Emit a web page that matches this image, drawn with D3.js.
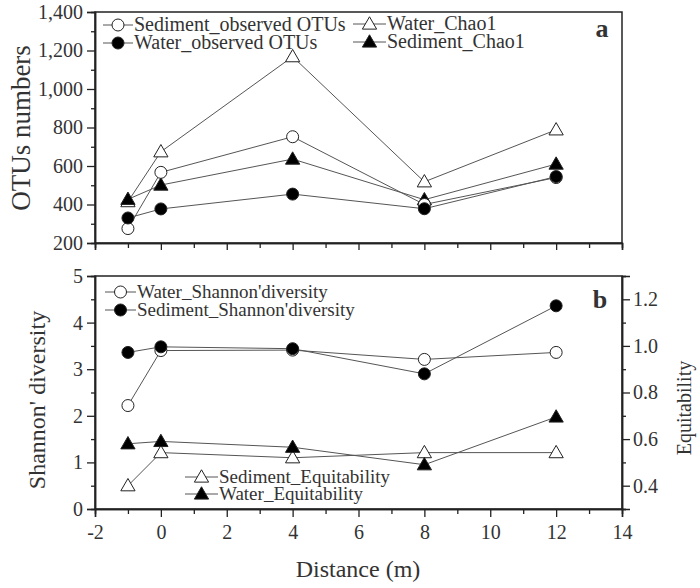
<!DOCTYPE html>
<html><head><meta charset="utf-8">
<script src="https://cdn.jsdelivr.net/npm/d3@7"></script>
<style>body{margin:0;background:#fff}svg{display:block}</style>
</head><body>
<script>
const distance = [-1, 0, 4, 8, 12];
const sedObsOTUs = [275, 567, 752, 400, 540];
const waterObsOTUs = [330, 377, 454, 378, 545];
const waterChao1 = [415, 674, 1168, 518, 788];
const sedChao1 = [427, 501, 636, 425, 610];
const waterShannon = [2.22, 3.40, 3.41, 3.21, 3.36];
const sedShannon = [3.36, 3.48, 3.44, 2.90, 4.36];
const sedEquit = [0.40, 0.542, 0.52, 0.542, 0.542];
const waterEquit = [0.58, 0.59, 0.565, 0.49, 0.695];
const topTicks = [200, 400, 600, 800, 1000, 1200, 1400];
const shannonTicks = [0, 1, 2, 3, 4, 5];
const equitTicks = [0.4, 0.6, 0.8, 1.0, 1.2];
const xTicks = [-2, 0, 2, 4, 6, 8, 10, 12, 14];

const FONT = "Liberation Serif";
const W = 700, H = 588;
const svg = d3.select("body").append("svg").attr("width", W).attr("height", H)
  .attr("font-family", FONT);

const x = d3.scaleLinear([-2, 14], [95, 622]);
const yTop = d3.scaleLinear([200, 1400], [243, 12]);
const yBL = d3.scaleLinear([0, 5], [509, 276]);
const yBR = d3.scaleLinear([0.3, 1.3], [509, 276]);

const tickFont = 20;
const ink = "#222";
function styleAxis(g) {
  g.attr("font-family", FONT);
  g.selectAll(".domain").attr("stroke", ink).attr("stroke-width", 1.5);
  g.selectAll(".tick line").attr("stroke", ink).attr("stroke-width", 1.3);
  g.selectAll("text").attr("font-size", tickFont).attr("font-family", FONT).attr("fill", "#333");
}

// Panel boxes
svg.append("rect").attr("x", 95).attr("y", 12).attr("width", 527).attr("height", 231)
  .attr("fill", "none").attr("stroke", ink).attr("stroke-width", 1.5);
svg.append("rect").attr("x", 95).attr("y", 276).attr("width", 527).attr("height", 233)
  .attr("fill", "none").attr("stroke", ink).attr("stroke-width", 1.5);

// Top axes
svg.append("g").attr("transform", "translate(95,0)")
  .call(d3.axisLeft(yTop).tickValues(d3.range(300, 1400, 200)).tickSize(4).tickFormat(""))
  .call(styleAxis);
svg.append("g").attr("transform", "translate(95,0)")
  .call(d3.axisLeft(yTop).tickValues(topTicks).tickSize(8).tickPadding(4).tickFormat(d3.format(",")))
  .call(styleAxis);
svg.append("g").attr("transform", "translate(0,243)")
  .call(d3.axisBottom(x).tickValues(d3.range(-1, 15, 2)).tickSize(5).tickFormat(""))
  .call(styleAxis);
svg.append("g").attr("transform", "translate(0,243)")
  .call(d3.axisBottom(x).tickValues(xTicks).tickSize(7).tickFormat(""))
  .call(styleAxis);

// Bottom axes
svg.append("g").attr("transform", "translate(95,0)")
  .call(d3.axisLeft(yBL).tickValues(d3.range(0.5, 5, 1)).tickSize(4).tickFormat(""))
  .call(styleAxis);
svg.append("g").attr("transform", "translate(95,0)")
  .call(d3.axisLeft(yBL).tickValues(shannonTicks).tickSize(8).tickPadding(4).tickFormat(d => String(d)))
  .call(styleAxis);
svg.append("g").attr("transform", "translate(622,0)")
  .call(d3.axisRight(yBR).tickValues([0.3, 0.5, 0.7, 0.9, 1.1, 1.3]).tickSize(4).tickFormat(""))
  .call(styleAxis);
svg.append("g").attr("transform", "translate(622,0)")
  .call(d3.axisRight(yBR).tickValues(equitTicks).tickSize(8).tickPadding(3).tickFormat(d => d.toFixed(1)))
  .call(styleAxis);
svg.append("g").attr("transform", "translate(0,509)")
  .call(d3.axisBottom(x).tickValues(d3.range(-1, 15, 2)).tickSize(5).tickFormat(""))
  .call(styleAxis);
svg.append("g").attr("transform", "translate(0,509)")
  .call(d3.axisBottom(x).tickValues(xTicks).tickSize(8).tickPadding(8).tickFormat(d => String(d)))
  .call(styleAxis);

// Series drawing
const lineColor = "#555";
function marker(g, type, filled, cx, cy) {
  if (type === "circle") {
    g.append("circle").attr("cx", cx).attr("cy", cy).attr("r", 6)
      .attr("fill", filled ? "#000" : "#fff").attr("stroke", ink).attr("stroke-width", 1);
  } else {
    g.append("path").attr("d", d3.symbol(d3.symbolTriangle, 88)())
      .attr("transform", `translate(${cx},${cy + 1})`)
      .attr("fill", filled ? "#000" : "#fff").attr("stroke", ink).attr("stroke-width", 1);
  }
}
function series(values, yScale, type, filled) {
  const pts = distance.map((d, i) => [x(d), yScale(values[i])]);
  const g = svg.append("g");
  g.append("path").attr("d", d3.line()(pts)).attr("fill", "none")
    .attr("stroke", lineColor).attr("stroke-width", 1);
  pts.forEach(p => marker(g, type, filled, p[0], p[1]));
}
series(waterChao1, yTop, "tri", false);
series(sedChao1, yTop, "tri", true);
series(sedObsOTUs, yTop, "circle", false);
series(waterObsOTUs, yTop, "circle", true);

series(sedEquit, yBR, "tri", false);
series(waterEquit, yBR, "tri", true);
series(waterShannon, yBL, "circle", false);
series(sedShannon, yBL, "circle", true);

// Legends
function legendItem(x0, x1, y, type, filled, label, fs) {
  const g = svg.append("g");
  g.append("line").attr("x1", x0).attr("x2", x1).attr("y1", y).attr("y2", y)
    .attr("stroke", lineColor).attr("stroke-width", 1);
  marker(g, type, filled, (x0 + x1) / 2, y);
  g.append("text").attr("x", x1 + 1).attr("y", y + 6).attr("font-size", fs)
    .attr("font-family", FONT).attr("fill", "#333").text(label);
}
legendItem(103, 133, 25, "circle", false, "Sediment_observed OTUs", 20);
legendItem(103, 133, 43, "circle", true, "Water_observed OTUs", 20);
legendItem(353, 386, 24, "tri", false, "Water_Chao1", 20);
legendItem(353, 386, 42, "tri", true, "Sediment_Chao1", 20);
legendItem(105, 136, 292, "circle", false, "Water_Shannon'diversity", 19);
legendItem(105, 136, 310, "circle", true, "Sediment_Shannon'diversity", 19);
legendItem(185, 218, 477, "tri", false, "Sediment_Equitability", 19);
legendItem(185, 218, 494, "tri", true, "Water_Equitability", 19);

function txt(attrs, s) {
  const t = svg.append("text").attr("font-family", FONT).attr("fill", "#333");
  Object.entries(attrs).forEach(([k, v]) => t.attr(k, v));
  return t.text(s);
}
// Panel labels
txt({x: 602, y: 37, "font-size": 26, "font-weight": "bold", "text-anchor": "middle"}, "a");
txt({x: 600, y: 308, "font-size": 26, "font-weight": "bold", "text-anchor": "middle"}, "b");

// Axis titles
txt({transform: "translate(30,128) rotate(-90)", "text-anchor": "middle", "font-size": 27}, "OTUs numbers");
txt({transform: "translate(45,400) rotate(-90)", "text-anchor": "middle", "font-size": 24}, "Shannon' diversity");
txt({transform: "translate(691,408) rotate(-90)", "text-anchor": "middle", "font-size": 20}, "Equitability");
txt({x: 358, y: 577, "text-anchor": "middle", "font-size": 24}, "Distance (m)");
</script>
</body></html>
